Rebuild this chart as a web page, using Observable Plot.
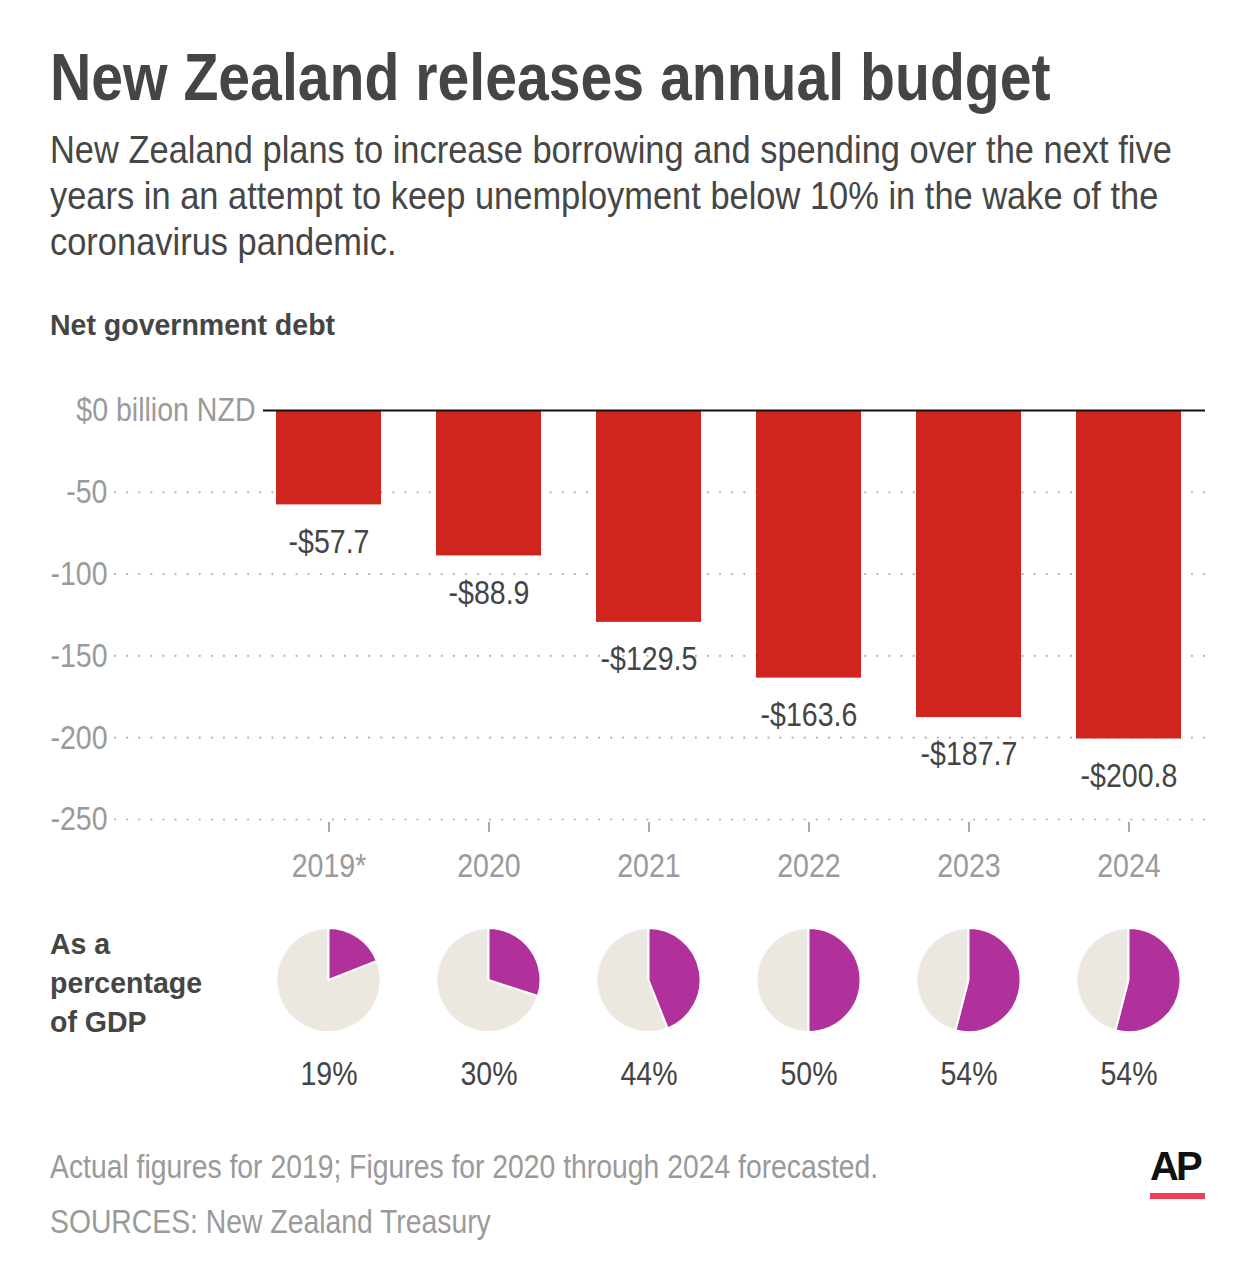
<!DOCTYPE html>
<html><head><meta charset="utf-8">
<script src="https://cdn.jsdelivr.net/npm/d3@7"></script>
<script src="https://cdn.jsdelivr.net/npm/@observablehq/plot@0.6"></script>
<style>
body{margin:0;background:#fff;}
#page{position:relative;width:1254px;height:1280px;font-family:"Liberation Sans",Arial,sans-serif;overflow:hidden;background:#fff}
.abs{position:absolute;white-space:nowrap;margin:0}
.sx{display:inline-block;transform-origin:0 0}
#title{left:50px;top:44px;font-size:66px;line-height:66px;font-weight:bold;color:#454545}
#title .sx{transform:scaleX(0.866)}
#subtitle{left:50px;top:127px;font-size:39px;line-height:46px;color:#464646}
#subtitle .sx{transform:scaleX(0.883)}
#debt{left:50px;top:310px;font-size:30px;line-height:30px;font-weight:bold;color:#454545}
#debt .sx{transform:scaleX(0.95)}
#gdp{left:50px;top:924px;font-size:30px;line-height:39px;font-weight:bold;color:#454545}
#gdp .sx{transform:scaleX(0.95)}
#note{left:50px;top:1139px;font-size:34px;line-height:55px;color:#9a9a9a}
#note .sx{transform:scaleX(0.833)}
#ap{left:1150px;top:1146px;font-size:40px;line-height:40px;font-weight:bold;color:#111;letter-spacing:-3px}
#apbar{left:1150px;top:1193px;width:55px;height:6px;background:#ef3f5b}
#bars{left:0;top:380px}
#pies{left:0;top:900px}
</style></head>
<body>
<div id="page">
  <div id="title" class="abs"><span class="sx">New Zealand releases annual budget</span></div>
  <div id="subtitle" class="abs"><span class="sx">New Zealand plans to increase borrowing and spending over the next five<br>years in an attempt to keep unemployment below 10% in the wake of the<br>coronavirus pandemic.</span></div>
  <div id="debt" class="abs"><span class="sx">Net government debt</span></div>
  <div id="bars" class="abs"></div>
  <div id="gdp" class="abs"><span class="sx">As a<br>percentage<br>of GDP</span></div>
  <div id="pies" class="abs"></div>
  <div id="note" class="abs"><span class="sx">Actual figures for 2019; Figures for 2020 through 2024 forecasted.<br>SOURCES: New Zealand Treasury</span></div>
  <div id="ap" class="abs">AP</div>
  <div id="apbar" class="abs"></div>
</div>
<script>
// ---- data ----
const years = ["2019*", "2020", "2021", "2022", "2023", "2024"];
const debt = [-57.7, -88.9, -129.5, -163.6, -187.7, -200.8];
const gdpPct = [19, 30, 44, 50, 54, 54];
const yTicks = [-50, -100, -150, -200, -250];
const zeroLabel = "$0 billion NZD";

const barData = years.map((y, i) => ({year: y, value: debt[i]}));
const pieData = years.map((y, i) => ({year: y, pct: gdpPct[i]}));

const FONT = '"Liberation Sans",Arial,sans-serif';
const xScale = {type: "band", domain: years, paddingInner: 0.344, paddingOuter: 0.574, align: 0.87};
const W = 1254, mL = 115, mR = 49;

// condense SVG text horizontally (narrow typeface look)
function condense(svg, s) {
  d3.select(svg).selectAll("text").each(function () {
    const t = this.getAttribute("transform");
    if (t) this.setAttribute("transform", t + ` scale(${s},1)`);
    else {
      const x = +this.getAttribute("x") || 0, y = +this.getAttribute("y") || 0;
      this.setAttribute("x", 0); this.setAttribute("y", 0);
      this.setAttribute("transform", `translate(${x},${y}) scale(${s},1)`);
    }
  });
  return svg;
}

const bars = Plot.plot({
  width: W, height: 520,
  marginLeft: mL, marginRight: mR, marginTop: 30, marginBottom: 81,
  style: {fontFamily: FONT, fontSize: "34px", background: "transparent"},
  x: {...xScale, label: null},
  y: {domain: [-250, 0], label: null},
  marks: [
    Plot.gridY(yTicks, {stroke: "#b5b5b5", strokeOpacity: 1, strokeWidth: 2.2, strokeDasharray: "0.1,12", strokeLinecap: "round"}),
    Plot.axisY({ticks: yTicks, tickFormat: d => String(d), tickSize: 0, tickPadding: 8, fill: "#9a9a9a", fontSize: 34, label: null}),
    Plot.text([0], {y: d => d, text: () => zeroLabel, frameAnchor: "left", dx: 140, textAnchor: "end", fill: "#9a9a9a", fontSize: 34}),
    Plot.barY(barData, {x: "year", y: "value", fill: "#d0251f"}),
    Plot.ruleY([0], {stroke: "#111", strokeWidth: 2, insetLeft: 148}),
    Plot.text(barData, {x: "year", y: "value", text: d => "-$" + Math.abs(d.value).toFixed(1), dy: 37, lineAnchor: "middle", fill: "#444", fontSize: 34}),
    Plot.axisX({tickSize: 10, tickPadding: 20, stroke: "#aaa", strokeWidth: 2, fill: "#9a9a9a", fontSize: 34, label: null, dy: 3})
  ]
});
document.getElementById("bars").appendChild(condense(bars, 0.84));

const pies = Plot.plot({
  width: W, height: 200,
  marginLeft: mL, marginRight: mR, marginTop: 0, marginBottom: 0,
  style: {fontFamily: FONT, fontSize: "34px", background: "transparent"},
  x: {...xScale, axis: null},
  marks: [
    (index, scales, values, dimensions) => {
      const g = d3.create("svg:g");
      const x = scales.x;
      const bw = x.bandwidth ? x.bandwidth() : 0;
      const r = 52, cy = dimensions.marginTop + 80;
      const arc = d3.arc().innerRadius(0).outerRadius(r);
      for (const d of pieData) {
        const cx = x(d.year) + bw / 2;
        const a = 2 * Math.PI * d.pct / 100;
        const gg = g.append("g").attr("transform", `translate(${cx},${cy})`);
        gg.append("path").attr("d", arc({startAngle: a, endAngle: 2 * Math.PI})).attr("fill", "#ece8e0").attr("stroke", "#fff").attr("stroke-width", 2);
        gg.append("path").attr("d", arc({startAngle: 0, endAngle: a})).attr("fill", "#b0309c").attr("stroke", "#fff").attr("stroke-width", 2);
      }
      return g.node();
    },
    Plot.text(pieData, {x: "year", text: d => d.pct + "%", frameAnchor: "top", dy: 174, lineAnchor: "middle", fill: "#444", fontSize: 34})
  ]
});
document.getElementById("pies").appendChild(condense(pies, 0.84));
</script>
</body></html>
